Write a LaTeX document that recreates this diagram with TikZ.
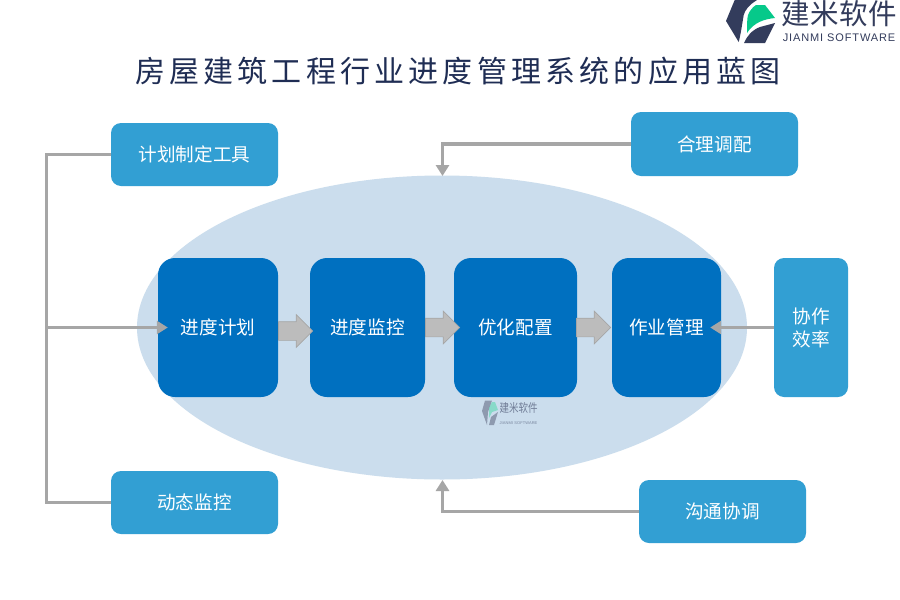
\documentclass[tikz,border=0pt]{standalone}
\usepackage{fontspec}
\setmainfont{Noto Sans CJK SC}[Script=CJK]
\newfontfamily\latinlogo{Liberation Sans}
\usetikzlibrary{shapes.arrows,arrows.meta}
\definecolor{lightb}{HTML}{329FD3}
\definecolor{darkb}{HTML}{0070C0}
\definecolor{ell}{HTML}{CBDDED}
\definecolor{navy}{HTML}{1F2D54}
\definecolor{conn}{HTML}{A6A6A6}
\definecolor{logog}{HTML}{06C98A}
\definecolor{logod}{HTML}{333C5C}
\tikzset{
  box/.style={inner sep=0pt,text=white,font=\fontsize{18.6}{23}\selectfont,align=center},
  sidebox/.style={box,fill=lightb,rounded corners=10pt},
  corebox/.style={box,fill=darkb,rounded corners=17pt,minimum height=139pt},
  wire/.style={draw=conn,line width=3.2pt},
  wiretip/.style={wire,-{Triangle[length=11pt,width=13pt]}},
  blockarrow/.style={single arrow,draw=conn,fill=conn!75!white,line width=.7pt,inner xsep=0pt,inner ysep=9pt,
    minimum height=34pt,single arrow head extend=7pt,anchor=west},
  titlestyle/.style={text=navy,inner sep=0pt,font=\fontsize{30}{36}\selectfont}
}
\begin{document}
\begin{tikzpicture}[x=1pt,y=-1pt]
\useasboundingbox (0,0) rectangle (900,600);
\fill[white] (0,0) rectangle (900,600);
\fill[ell] (442,327.5) ellipse [x radius=305,y radius=152];

\node[titlestyle] (title) at (458,71) {\addfontfeature{LetterSpace=14}房屋建筑工程行业进度管理系统的应用蓝图};

% logo
\fill[logod] (734.7,0) -- (757,0) .. controls (749,5) and (745,10) .. (743.7,15) .. controls (742,25) and (741,33) .. (738.7,42) -- (726,21) -- cycle;
\fill[logod] (775,23) -- (765,43) -- (744,43) .. controls (747,36) and (752,30) .. (760,27) -- cycle;
\fill[logog] (747,33) .. controls (747,25) and (747,19) .. (748,15) .. controls (750,10) and (753,7) .. (756,5) -- (765,5) -- (775,18) .. controls (765,19) and (754,22) .. cycle;
\node[text=logod,inner sep=0pt,font=\fontsize{28.5}{30}\selectfont] (logocn) at (839.5,14) {\addfontfeature{LetterSpace=1.5}建米软件};
\node[text=logod,inner sep=0pt,font=\latinlogo\fontsize{11}{12}\selectfont] (logoen) at (839,38) {\addfontfeature{LetterSpace=8}JIANMI SOFTWARE};

% watermark
\begin{scope}[opacity=.55]
\fill[logod!80] (485,400.5) -- (492,400.5) -- (488,412) -- (487,425) -- (482,411) -- cycle;
\fill[logod!80] (498,412) -- (494,425) -- (489,425) -- (491,417) -- cycle;
\fill[logog!70] (489,418) -- (489,408) -- (492,402) -- (495,402) -- (498,410) -- (492,412) -- cycle;
\end{scope}
\node[opacity=.6,text=logod,inner sep=0pt,font=\fontsize{9.5}{10}\selectfont,yscale=1.25] (wmcn) at (518.5,408) {建米软件};
\node[opacity=.55,text=logod,inner sep=0pt,font=\latinlogo\fontsize{4}{5}\selectfont] (wmen) at (518.5,423) {\addfontfeature{LetterSpace=2}JIANMI SOFTWARE};

% side boxes
\node[sidebox,minimum width=167pt,minimum height=63pt] (plan) at (194.5,154.5) {计划制定工具};
\node[sidebox,minimum width=167pt,minimum height=64pt] (alloc) at (714.5,144) {合理调配};
\node[sidebox,minimum width=167pt,minimum height=63pt] (dyn) at (194.5,502.5) {动态监控};
\node[sidebox,minimum width=167pt,minimum height=63pt] (comm) at (722.5,511.5) {沟通协调};
\node[sidebox,minimum width=74pt,minimum height=139pt] (eff) at (811,327.5) {协作\\效率};

% core boxes
\node[corebox,minimum width=120pt] (c1) at (218,327.5) {进度计划};
\node[corebox,minimum width=115pt] (c2) at (367.5,327.5) {进度监控};
\node[corebox,minimum width=123pt] (c3) at (515.5,327.5) {优化配置};
\node[corebox,minimum width=109pt] (c4) at (666.5,327.5) {作业管理};

% block arrows
\node[blockarrow] (a1) at (c1.east |- 0,331) {};
\node[blockarrow] (a2) at (c2.east) {};
\node[blockarrow] (a3) at ([xshift=-1pt]c3.east) {};

% connectors
\coordinate (tl) at (46.5,154.5);
\coordinate (bl) at (46.5,502.5);
\coordinate (ml) at (46.5,327.5);
\coordinate (etop) at (442.5,176);
\coordinate (ebot) at (442.5,480);
\draw[wire] (plan.west) -- (tl) -- (bl) -- (dyn.west);
\draw[wiretip] (ml) -- ([xshift=10pt]c1.west);
\draw[wiretip] (alloc.west) -- (etop |- alloc.west) -- (etop);
\draw[wiretip] (comm.west) -- (ebot |- comm.west) -- (ebot);
\draw[wiretip] (eff.west) -- ([xshift=-11pt]c4.east);
\end{tikzpicture}
\end{document}
